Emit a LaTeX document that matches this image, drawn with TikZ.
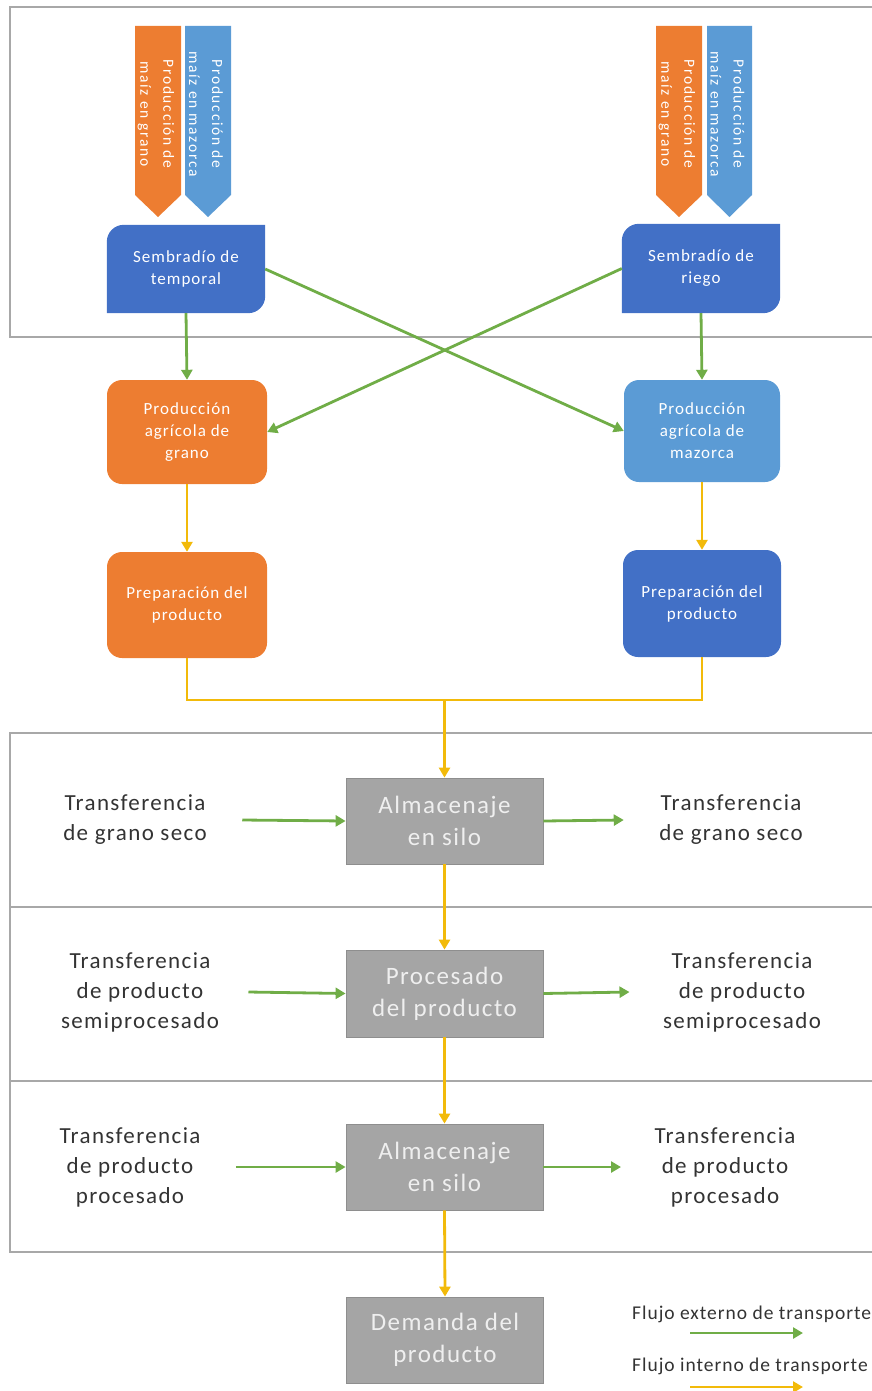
\documentclass[tikz,border=0pt]{standalone}
\usepackage{fontspec}
\setmainfont{Carlito}
\newfontfamily\wide{Carlito}[LetterSpace=6]
\newfontfamily\vwide{Carlito}[LetterSpace=11]
\newfontfamily\legendfont{Carlito}[LetterSpace=5]
\usetikzlibrary{arrows.meta,calc,backgrounds}

\definecolor{sembrblue}{HTML}{4270C6}
\definecolor{orangeC}{HTML}{ED7D31}
\definecolor{lightblue}{HTML}{5B9BD5}
\definecolor{boxgray}{HTML}{A5A5A5}
\definecolor{boxedge}{HTML}{8E8E8E}
\definecolor{graytext}{HTML}{EFEFEF}
\definecolor{darktext}{HTML}{333333}
\definecolor{flowgreen}{HTML}{70AD47}
\definecolor{flowyellow}{HTML}{F2BA0A}
\definecolor{framegray}{HTML}{A8A8A8}

\newcommand\fsz[2]{\fontsize{#1}{#2}\selectfont}

\tikzset{
  colbox/.style={align=center, text=white, inner sep=0pt,
    font=\wide\fsz{17}{22}},
  graybox/.style={fill=boxgray, draw=boxedge, line width=0.8pt, align=center,
    text=graytext, font=\wide\fsz{25}{32}, minimum width=197pt, minimum height=86pt},
  transfer/.style={align=center, text=darktext, font=\wide\fsz{23}{30}},
  arrowtext/.style={rotate=-90, align=center, text=white, inner sep=0pt,
    font=\vwide\fsz{15.5}{23}},
  tip/.style={-{Triangle[length=10pt,width=11pt]}},
  grn/.style={draw=flowgreen, line width=2.8pt, tip},
  yel/.style={draw=flowyellow, line width=2.8pt},
  yelarrow/.style={yel, tip},
  frame/.style={draw=framegray, line width=1.3pt},
  legendtext/.style={text=darktext, font=\legendfont\fsz{19.5}{22}, anchor=west, inner sep=0pt}
}

\begin{document}
\begin{tikzpicture}[x=1pt, y=-1pt]
\path[use as bounding box] (0,0) rectangle (872,1391);
\clip (0,0) rectangle (872,1391);

% frames
\draw[frame] (10,7) rectangle (880,337);
\draw[frame] (10,733) rectangle (880,1252);
\draw[frame] (10,907) -- (880,907);
\draw[frame] (10,1081) -- (880,1081);

% product arrows on top
\fill[orangeC] (135,26) -- (181,26) -- (181,195) -- (158,217) -- (135,195) -- cycle;
\fill[lightblue] (185,26) -- (231,26) -- (231,195) -- (208,217) -- (185,195) -- cycle;
\fill[orangeC] (656,26) -- (702,26) -- (702,195) -- (679,217) -- (656,195) -- cycle;
\fill[lightblue] (707,26) -- (752,26) -- (752,195) -- (729.5,217) -- (707,195) -- cycle;
\node[arrowtext] (ga) at (156,114) {Producción de\\maíz en grano};
\node[arrowtext] (ma) at (206,114) {Producción de\\maíz en mazorca};
\node[arrowtext] (gb) at (677,114) {Producción de\\maíz en grano};
\node[arrowtext] (mb) at (727.5,114) {Producción de\\maíz en mazorca};

% sowing boxes (top-left and bottom-right corners rounded)
\node[colbox, minimum width=158pt, minimum height=88pt] (t) at (186,269) {Sembradío de\\temporal};
\node[colbox, minimum width=158pt, minimum height=89pt] (r) at (701,268.5) {Sembradío de\\riego};
\begin{pgfonlayer}{background}
\foreach \n in {t,r}{
  \fill[sembrblue] (\n.south west) -- ($(\n.north west)+(0,17)$)
    .. controls ($(\n.north west)+(0,7.6)$) and ($(\n.north west)+(7.6,0)$) .. ($(\n.north west)+(17,0)$)
    -- (\n.north east) -- ($(\n.south east)+(0,-17)$)
    .. controls ($(\n.south east)+(0,-7.6)$) and ($(\n.south east)+(-7.6,0)$) .. ($(\n.south east)+(-17,0)$)
    -- cycle;
}
\end{pgfonlayer}

% production and preparation boxes
\node[colbox, fill=orangeC, rounded corners=15pt, minimum width=160pt, minimum height=104pt] (g) at (187,432) {Producción\\agrícola de\\grano};
\node[colbox, fill=lightblue, rounded corners=15pt, minimum width=156pt, minimum height=102pt] (m) at (702,431) {Producción\\agrícola de\\mazorca};
\node[colbox, fill=orangeC, rounded corners=15pt, minimum width=160pt, minimum height=106pt] (pl) at (187,605) {Preparación del\\producto};
\node[colbox, fill=sembrblue, rounded corners=15pt, minimum width=158pt, minimum height=107pt] (pr) at (702,603.5) {Preparación del\\producto};

% storage and processing
\node[graybox] (a1) at (444.5,821) {Almacenaje\\en silo};
\node[graybox, minimum height=87pt] (pp) at (444.5,993.5) {Procesado\\del producto};
\node[graybox] (a2) at (444.5,1167) {Almacenaje\\en silo};
\node[graybox] (d) at (445,1340) {Demanda del\\producto};

% transfers
\node[transfer] (l1) at (135,820) {Transferencia\\de grano seco};
\node[transfer] (r1) at (731,820) {Transferencia\\de grano seco};
\node[transfer] (l2) at (140,992) {Transferencia\\de producto\\semiprocesado};
\node[transfer] (r2) at (742,992) {Transferencia\\de producto\\semiprocesado};
\node[transfer] (l3) at (130,1167) {Transferencia\\de producto\\procesado};
\node[transfer] (r3) at (725,1167) {Transferencia\\de producto\\procesado};

% external flows
\draw[grn] (t.south) -- (g.north);
\draw[grn] (r.south) -- (m.north);
\draw[grn] (t.east) -- (m.west);
\draw[grn] (r.west) -- (g.east);
\draw[grn] ([xshift=32pt]l1.east) -- (a1.west);
\draw[grn] (a1.east) -- ([xshift=-32pt]r1.west);
\draw[grn] ([xshift=26pt]l2.east) -- (pp.west);
\draw[grn] (pp.east) -- ([xshift=-30pt]r2.west);
\draw[grn] ([xshift=32pt]l3.east) -- (a2.west);
\draw[grn] (a2.east) -- ([xshift=-30pt]r3.west);

% internal flows
\draw[yelarrow] (g.south) -- (pl.north);
\draw[yelarrow] (m.south) -- (pr.north);
\coordinate (j) at (444.5,700);
\draw[yel] (pl.south) |- (j) -| (pr.south);
\draw[yelarrow] (j) -- (a1.north);
\draw[yelarrow] (a1.south) -- (pp.north);
\draw[yelarrow] (pp.south) -- (a2.north);
\draw[yelarrow] (a2.south) -- (d.north);

% legend
\node[legendtext] (le) at (632,1314) {Flujo externo de transporte};
\node[legendtext] (li) at (632,1366) {Flujo interno de transporte};
\coordinate (e0) at (690,1333);
\coordinate (e1) at (803,1333);
\coordinate (i0) at (690,1387);
\coordinate (i1) at (803,1387);
\draw[grn] (e0) -- (e1);
\draw[yelarrow] (i0) -- (i1);
\end{tikzpicture}
\end{document}
